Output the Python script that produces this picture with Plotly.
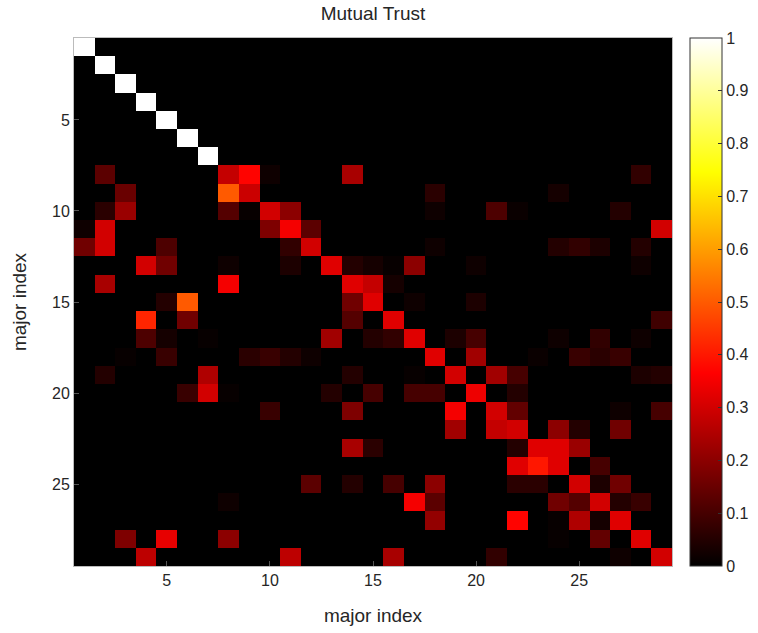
import plotly.graph_objects as go

majors = list(range(1, 30))

# Mutual trust matrix (row = major index on y, column = major index on x)
trust = [
    [1,0,0,0,0,0,0,0,0,0, 0,0,0,0,0,0,0,0,0,0, 0,0,0,0,0,0,0,0,0],
    [0,1,0,0,0,0,0,0,0,0, 0,0,0,0,0,0,0,0,0,0, 0,0,0,0,0,0,0,0,0],
    [0,0,1,0,0,0,0,0,0,0, 0,0,0,0,0,0,0,0,0,0, 0,0,0,0,0,0,0,0,0],
    [0,0,0,1,0,0,0,0,0,0, 0,0,0,0,0,0,0,0,0,0, 0,0,0,0,0,0,0,0,0],
    [0,0,0,0,1,0,0,0,0,0, 0,0,0,0,0,0,0,0,0,0, 0,0,0,0,0,0,0,0,0],
    [0,0,0,0,0,1,0,0,0,0, 0,0,0,0,0,0,0,0,0,0, 0,0,0,0,0,0,0,0,0],
    [0,0,0,0,0,0,1,0,0,0, 0,0,0,0,0,0,0,0,0,0, 0,0,0,0,0,0,0,0,0],
    [0,.13,0,0,0,0,0,.28,.37,.02, 0,0,0,.24,0,0,0,0,0,0, 0,0,0,0,0,0,0,.07,0],
    [0,0,.15,0,0,0,0,.50,.29,0, 0,0,0,0,0,0,0,.06,0,0, 0,0,0,.03,0,0,0,0,0],
    [0,.06,.22,0,0,0,0,.12,.01,.30, .20,0,0,0,0,0,0,.02,0,0, .11,.015,0,0,0,0,.05,0,0],
    [.02,.30,0,0,0,0,0,0,0,.18, .35,.13,0,0,0,0,0,0,0,0, 0,0,0,0,0,0,0,0,.30],
    [.16,.30,0,0,.11,0,0,0,0,0, .07,.30,0,0,0,0,0,.02,0,0, 0,0,0,.05,.07,.04,0,.05,0],
    [0,0,0,.30,.16,0,0,.02,0,0, .04,0,.32,.05,.03,.01,.20,0,0,.02, 0,0,0,0,0,0,0,.02,0],
    [0,.24,0,0,0,0,0,.35,0,0, 0,0,0,.32,.28,.03,0,0,0,0, 0,0,0,0,0,0,0,0,0],
    [0,0,0,0,.05,.50,0,0,0,0, 0,0,0,.16,.32,0,.02,0,0,.04, 0,0,0,0,0,0,0,0,0],
    [0,0,0,.42,0,.16,0,0,0,0, 0,0,0,.12,0,.32,0,0,0,0, 0,0,0,0,0,0,0,0,.09],
    [0,0,0,.11,.03,0,.01,0,0,0, 0,0,.23,0,.05,.07,.32,0,.04,.10, 0,0,0,.02,0,.07,0,.02,0],
    [0,0,.01,0,.08,0,0,0,.06,.08, .05,.02,0,0,0,0,0,.32,0,.23, 0,0,.015,0,.08,.06,.08,0,0],
    [0,.05,0,0,0,0,.25,0,0,0, 0,0,0,.05,0,0,.01,0,.30,0, .23,.10,0,0,0,0,0,.04,.05],
    [0,0,0,0,0,.08,.30,.01,0,0, 0,0,.05,0,.10,0,.10,.10,0,.34, 0,.05,0,0,0,0,0,0,0],
    [0,0,0,0,0,0,0,0,0,.08, 0,0,0,.18,0,0,0,0,.35,0, .30,.14,0,0,0,0,.02,0,.10],
    [0,0,0,0,0,0,0,0,0,0, 0,0,0,0,0,0,0,0,.23,0, .28,.30,0,.20,.05,0,.16,0,0],
    [0,0,0,0,0,0,0,0,0,0, 0,0,0,.24,.06,0,0,0,0,0, 0,.05,.32,.32,.22,0,0,0,0],
    [0,0,0,0,0,0,0,0,0,0, 0,0,0,0,0,0,0,0,0,0, 0,.32,.40,.32,0,.10,0,0,0],
    [0,0,0,0,0,0,0,0,0,0, 0,.13,0,.05,0,.10,0,.20,0,0, 0,.06,.06,0,.30,.04,.16,0,0],
    [0,0,0,0,0,0,0,.02,0,0, 0,0,0,0,0,0,.35,.13,0,0, 0,0,0,.16,.12,.30,.05,.08,0],
    [0,0,0,0,0,0,0,0,0,0, 0,0,0,0,0,0,0,.21,0,0, 0,.37,0,.01,.25,.03,.32,0,0],
    [0,0,.18,0,.33,0,0,.20,0,0, 0,0,0,0,0,0,0,0,0,0, 0,0,0,.01,0,.14,0,.32,0],
    [0,0,0,.27,0,0,0,0,0,0, .27,0,0,0,0,.24,0,0,0,0, .07,0,0,0,0,0,.02,0,.30],
]

axis_ticks = [5, 10, 15, 20, 25]
cbar_ticks = [0, 0.1, 0.2, 0.3, 0.4, 0.5, 0.6, 0.7, 0.8, 0.9, 1]
cbar_labels = ["0", "0.1", "0.2", "0.3", "0.4", "0.5", "0.6", "0.7", "0.8", "0.9", "1"]

hot = [
    [0.0, "rgb(0,0,0)"],
    [0.365, "rgb(255,0,0)"],
    [0.746, "rgb(255,255,0)"],
    [1.0, "rgb(255,255,255)"],
]

font_family = "Liberation Sans, Arial, sans-serif"
text_color = "#262626"

fig = go.Figure(
    go.Heatmap(
        z=trust,
        x=majors,
        y=majors,
        zmin=0,
        zmax=1,
        colorscale=hot,
        colorbar=dict(
            x=(690 - 74) / 598,
            xanchor="left",
            xpad=0,
            ypad=0,
            y=0.5,
            yanchor="middle",
            len=1.0,
            lenmode="fraction",
            thickness=32,
            outlinewidth=1,
            outlinecolor="#333333",
            tickvals=cbar_ticks,
            ticktext=cbar_labels,
            ticks="inside",
            ticklen=4,
            tickcolor="#333333",
            tickfont=dict(family=font_family, size=16, color=text_color),
        ),
        hovertemplate="x=%{x}<br>y=%{y}<br>%{z}<extra></extra>",
    )
)

axis_common = dict(
    tickvals=axis_ticks,
    ticks="inside",
    ticklen=5,
    tickcolor="#555555",
    showline=True,
    mirror=True,
    linecolor="#bbbbbb",
    linewidth=1,
    showgrid=False,
    zeroline=False,
    tickfont=dict(family=font_family, size=16, color=text_color),
)

fig.update_layout(
    width=758,
    height=633,
    margin=dict(l=74, r=86, t=38, b=67, autoexpand=False),
    paper_bgcolor="white",
    plot_bgcolor="black",
    title=dict(
        text="Mutual Trust",
        x=(74 + 672) / 2 / 758,
        xanchor="center",
        y=1 - 13 / 633,
        yanchor="middle",
        font=dict(family=font_family, size=19, color=text_color),
    ),
    xaxis=dict(
        range=[0.5, 29.5],
        title=dict(text="major index", standoff=20,
                   font=dict(family=font_family, size=19, color=text_color)),
        **axis_common,
    ),
    yaxis=dict(
        range=[29.5, 0.5],
        title=dict(text="major index", standoff=20,
                   font=dict(family=font_family, size=19, color=text_color)),
        **axis_common,
    ),
)

fig.write_html("out.html")
